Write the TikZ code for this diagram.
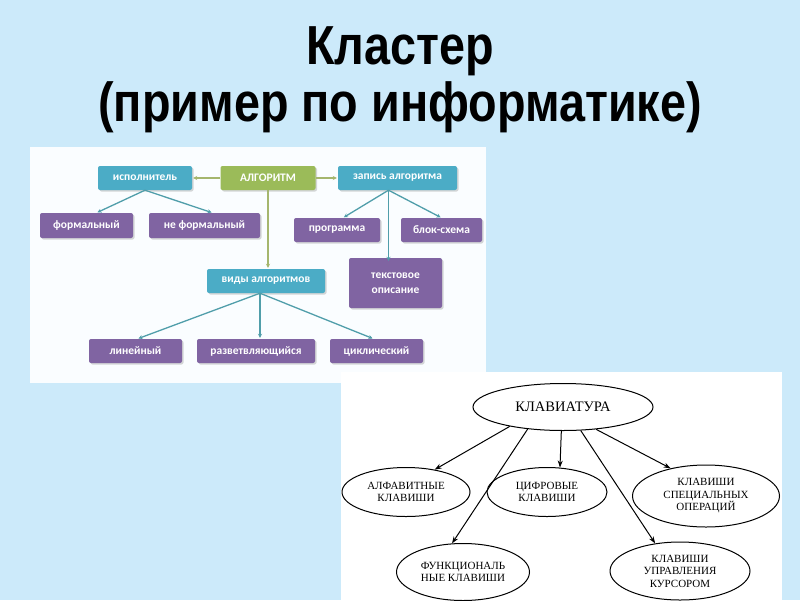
\documentclass[tikz,border=0pt]{standalone}
\usepackage{fontspec}
\usepackage{xcolor}
\usepackage{tikz}
\usetikzlibrary{arrows.meta,shapes.geometric,shadows}
\newfontfamily\titlefont[FakeStretch=0.85]{Liberation Sans}
\newfontfamily\boxfont{Carlito}
\newfontfamily\kbfont{Liberation Serif}
\definecolor{skyback}{RGB}{204,234,250}
\definecolor{paneltint}{RGB}{250,253,255}
\definecolor{boxteal}{RGB}{75,172,198}
\definecolor{boxpurple}{RGB}{128,100,162}
\definecolor{boxgreen}{RGB}{155,187,89}
\definecolor{lineteal}{RGB}{80,158,170}
\definecolor{lineolive}{RGB}{165,182,110}

\begin{document}
\begin{tikzpicture}[x=1pt,y=-1pt,
	box/.style={rounded corners=2pt, text=white, inner sep=0pt, align=center,
		font=\boxfont\bfseries\fontsize{11.5}{15}\selectfont, minimum height=24pt,
		drop shadow={shadow xshift=1.5pt, shadow yshift=-1.5pt, fill=black!45, opacity=.35}},
	tealbox/.style={box, fill=boxteal},
	purplebox/.style={box, fill=boxpurple},
	greenbox/.style={box, fill=boxgreen},
	tealarrow/.style={draw=lineteal, line width=1.3pt, -{Stealth[length=4pt,width=4pt]}, shorten >=1pt},
	olivearrow/.style={draw=lineolive, line width=1.3pt, -{Stealth[length=4pt,width=4pt]}, shorten >=1pt},
	keyoval/.style={ellipse, draw, line width=1pt, inner sep=0pt, align=center,
		font=\kbfont\fontsize{11}{12.5}\selectfont},
	keyarrow/.style={draw, line width=1pt, -{Stealth[length=7pt,width=5pt]}}]
	\useasboundingbox (0,0) rectangle (800,600);
	\fill[skyback] (0,0) rectangle (800,600);
	\fill[paneltint] (30,147) rectangle (486,383);
	\fill[white] (341,372) rectangle (782,600);

	\node (title1) [anchor=base, font=\titlefont\bfseries\fontsize{55}{60}\selectfont] at (400,64) {Кластер};
	\node (title2) [anchor=base, font=\titlefont\bfseries\fontsize{55}{60}\selectfont] at (400,121) {(пример по информатике)};

	\node (alg) [greenbox, minimum width=95pt] at (268,178) {АЛГОРИТМ};
	\node (isp) [tealbox, minimum width=94pt] at (145,178) {исполнитель};
	\node (zap) [tealbox, minimum width=119pt] at (397.5,178) {запись алгоритма};
	\node (form) [purplebox, minimum width=93pt, minimum height=25pt] at (86.5,225.5) {формальный};
	\node (nform) [purplebox, minimum width=111pt, minimum height=25pt] at (204.5,225.5) {не формальный};
	\node (prog) [purplebox, minimum width=86pt] at (337,230) {программа};
	\node (blok) [purplebox, minimum width=81pt] at (441.5,230) {блок-схема};
	\node (tekst) [purplebox, minimum width=93pt, minimum height=50pt] at (395.5,283) {текстовое\\описание};
	\node (vid) [tealbox, minimum width=118pt] at (266,281) {виды алгоритмов};
	\node (lin) [purplebox, minimum width=93pt] at (135.5,351) {линейный};
	\node (razv) [purplebox, minimum width=118pt] at (256,351) {разветвляющийся};
	\node (cikl) [purplebox, minimum width=93pt] at (376.5,351) {циклический};

	\draw[olivearrow] (alg) -- (isp);
	\draw[olivearrow] (alg) -- (zap);
	\draw[olivearrow] (alg.south) -- (alg.south |- vid.north);
	\draw[tealarrow] (isp.south) -- ([xshift=10pt]form.north);
	\draw[tealarrow] (isp.south) -- ([xshift=8pt]nform.north);
	\draw[tealarrow] ([xshift=-9pt]zap.south) -- ([xshift=6pt]prog.north);
	\draw[tealarrow] ([xshift=-9pt]zap.south) -- (blok.north);
	\draw[tealarrow] ([xshift=-9pt]zap.south) -- ([xshift=-7pt, yshift=-4pt]tekst.north);
	\foreach \n/\s in {lin/2pt, razv/4pt, cikl/-3pt}
	\draw[tealarrow] ([xshift=-6pt]vid.south) -- ([xshift=\s]\n.north);

	\node (klav) [keyoval, minimum width=180pt, minimum height=47pt, font=\kbfont\fontsize{14.5}{16}\selectfont] at (563,407) {КЛАВИАТУРА};
	\node (alf) [keyoval, minimum width=128pt, minimum height=49pt] at (406,492) {АЛФАВИТНЫЕ\\КЛАВИШИ};
	\node (cif) [keyoval, minimum width=120pt, minimum height=49pt] at (547,492) {ЦИФРОВЫЕ\\КЛАВИШИ};
	\node (spec) [keyoval, minimum width=147pt, minimum height=62pt] at (706,496) {КЛАВИШИ\\СПЕЦИАЛЬНЫХ\\ОПЕРАЦИЙ};
	\node (func) [keyoval, minimum width=133pt, minimum height=57pt] at (463,572) {ФУНКЦИОНАЛЬ\\НЫЕ КЛАВИШИ};
	\node (upr) [keyoval, minimum width=140pt, minimum height=58pt] at (680,571) {КЛАВИШИ\\УПРАВЛЕНИЯ\\КУРСОРОМ};

	\draw[keyarrow] (klav.200) -- (alf.38);
	\draw[keyarrow] (klav.212) -- (func.111);
	\draw[keyarrow] (klav.266) -- (cif.62);
	\draw[keyarrow] (klav.307) -- (upr.132);
	\draw[keyarrow] (klav.326) -- (spec.142);
\end{tikzpicture}
\end{document}
